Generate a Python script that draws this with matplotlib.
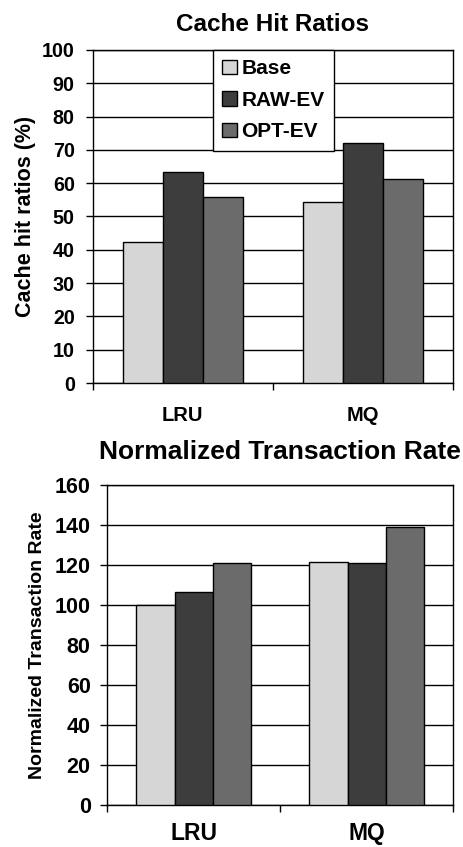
import numpy as np
import matplotlib
matplotlib.use('Agg')
import matplotlib.pyplot as plt
from matplotlib.ticker import FixedLocator

plt.rcParams['font.family'] = ['Liberation Sans', 'DejaVu Sans']
plt.rcParams['font.weight'] = 'bold'

policies = ['LRU', 'MQ']
schemes = ['Base', 'RAW-EV', 'OPT-EV']
colors = ['#d6d6d6', '#3d3d3d', '#6b6b6b']

# cache hit ratios (%), one list per scheme
hit_base = [42.4, 54.3]
hit_raw = [63.3, 72.2]
hit_opt = [55.8, 61.3]

# transaction rate normalized to LRU/Base = 100
rate_base = [100.0, 121.6]
rate_raw = [106.7, 120.8]
rate_opt = [120.8, 138.9]

fig = plt.figure(figsize=(4.63, 8.47), dpi=100)
ax1 = fig.add_axes([0.2002, 0.5478, 0.7782, 0.3932])
ax2 = fig.add_axes([0.2318, 0.0496, 0.7472, 0.3778])


def draw_bars(ax, series, ymax, ystep, tick_size, xlab_size, xlab_pad, ytick_pad):
    x = np.arange(len(policies))
    width = 2 / 9
    for i, (vals, col, name) in enumerate(zip(series, colors, schemes)):
        ax.bar(x + (i - 1) * width, vals, width, color=col, edgecolor='black',
               linewidth=1.0, label=name, zorder=3)
    ax.set_xlim(-0.5, len(policies) - 0.5)
    ax.set_ylim(0, ymax)
    ax.set_yticks(np.arange(0, ymax + 1, ystep))
    ax.yaxis.grid(True, color='black', linewidth=1.0, zorder=0)
    ax.set_axisbelow(True)
    for s in ax.spines.values():
        s.set_color('black')
        s.set_linewidth(1.0)
    # group labels in the middle, tick marks at group boundaries
    ax.set_xticks(x)
    ax.set_xticklabels(policies, fontsize=xlab_size, fontweight='bold')
    ax.tick_params(axis='x', which='major', length=0, pad=xlab_pad)
    ax.xaxis.set_minor_locator(FixedLocator([-0.5, 0.5, 1.5]))
    ax.tick_params(axis='x', which='minor', length=5, width=1.0, direction='out')
    ax.tick_params(axis='y', length=5, width=1.0, direction='out',
                   labelsize=tick_size, pad=ytick_pad)
    for lbl in ax.get_yticklabels():
        lbl.set_fontweight('bold')


draw_bars(ax1, [hit_base, hit_raw, hit_opt], 100, 10, 14.2, 14.5, 16.5, 8)
ax1.set_title('Cache Hit Ratios', fontsize=17.5, fontweight='bold', pad=14)
ax1.set_ylabel('Cache hit ratios (%)', fontsize=15.5, fontweight='bold', labelpad=4)
ax1.legend(loc='upper left', bbox_to_anchor=(0.334, 1.0),
           frameon=True, fancybox=False, edgecolor='black', framealpha=1,
           handlelength=0.7, handleheight=0.7, handletextpad=0.2,
           labelspacing=0.6, borderpad=0.45, borderaxespad=0,
           prop={'weight': 'bold', 'size': 15})
ax1.get_legend().get_frame().set_linewidth(1.0)

draw_bars(ax2, [rate_base, rate_raw, rate_opt], 160, 20, 15.5, 16.5, 12.5, 7)
ax2.set_title('Normalized Transaction Rate', fontsize=19, fontweight='bold', pad=19)
ax2.set_ylabel('Normalized Transaction Rate', fontsize=14, fontweight='bold', labelpad=6)

fig.savefig('out.png', dpi=100)
